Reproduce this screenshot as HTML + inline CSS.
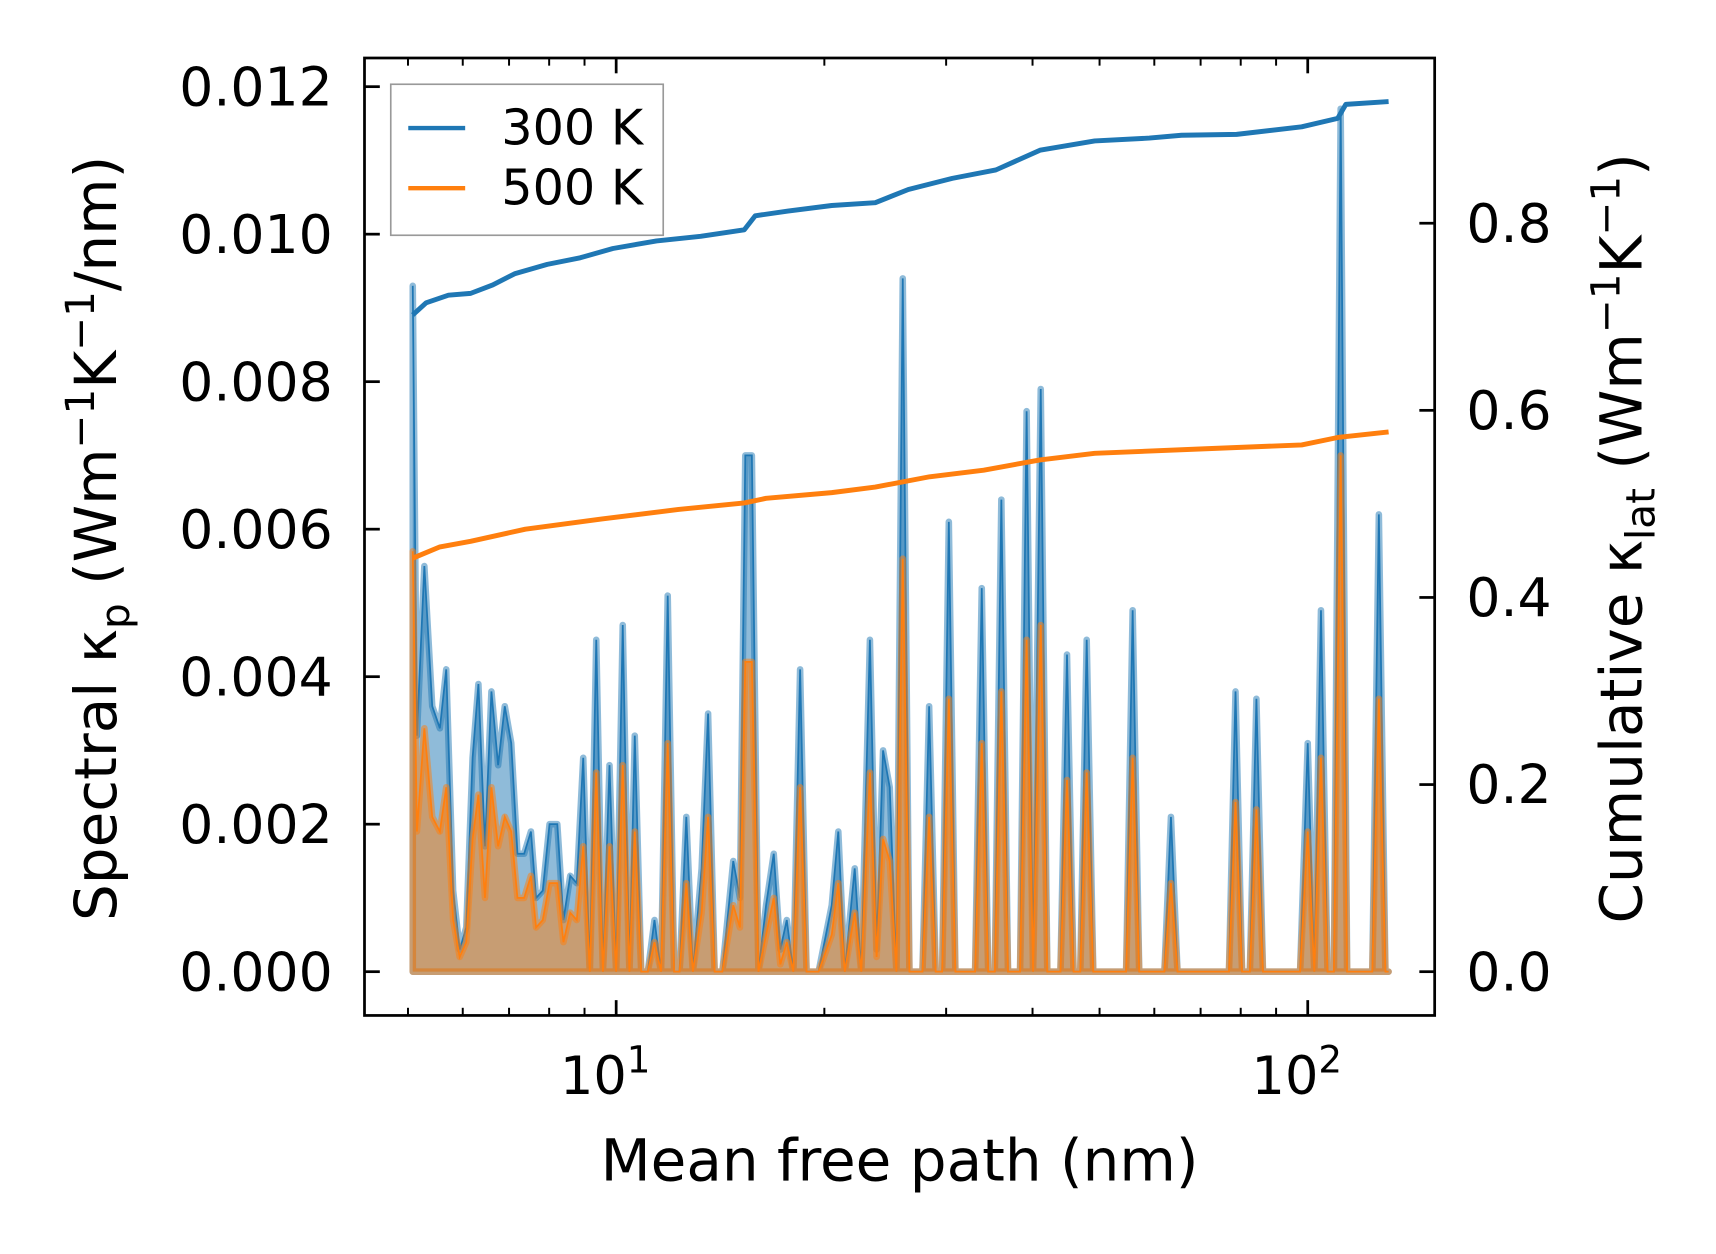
<!DOCTYPE html>
<html><head><meta charset="utf-8"><style>
html,body{margin:0;padding:0;background:#fff;}
svg{display:block;font-family:"DejaVu Sans","Liberation Sans",sans-serif;}
</style></head><body>
<svg id="chart" width="1716" height="1254" viewBox="0 0 1568 1146" xmlns="http://www.w3.org/2000/svg">
<rect x="0" y="0" width="1568" height="1146" fill="#fff"/>
<g id="marks"></g>
<g id="axes"></g>
</svg>
<script>
const mfp = [5.08,5.15,5.28,5.42,5.56,5.68,5.81,5.94,6.07,6.20,6.32,6.46,6.60,6.75,6.90,7.05,7.20,7.36,7.53,7.66,7.83,8.01,8.22,8.39,8.58,8.77,8.96,9.16,9.36,9.57,9.78,10.0,10.22,10.45,10.64,10.87,11.11,11.36,11.61,11.87,12.13,12.35,12.63,12.91,13.29,13.58,13.88,14.24,14.77,15.10,15.37,15.71,16.06,16.47,16.90,17.27,17.65,18.04,18.45,18.85,19.62,20.50,20.95,21.41,22.13,22.62,23.28,23.80,24.32,24.86,25.42,25.97,26.55,27.73,28.35,28.97,29.61,30.27,30.94,33.04,33.78,34.51,35.28,36.06,36.86,38.37,39.22,40.07,41.11,42.02,43.90,44.87,45.86,46.88,47.91,48.97,54.62,55.83,57.06,62.05,63.42,64.82,76.92,78.63,80.36,82.47,84.30,86.15,97.47,100,102.2,104.5,106.8,109.1,111.6,114.0,124.0,126.7,129.5,130.9];
const kp300 = [0.0093,0.0032,0.0055,0.0036,0.0033,0.0041,0.0011,0.0003,0.0006,0.0029,0.0039,0.0017,0.0038,0.0028,0.0036,0.0031,0.0016,0.0016,0.0019,0.0010,0.0011,0.0020,0.0020,0.0007,0.0013,0.0012,0.0029,0,0.0045,0,0.0028,0,0.0047,0,0.0032,0,0,0.0007,0,0.0051,0,0,0.0021,0,0.0014,0.0035,0,0,0.0015,0.0010,0.0070,0.0070,0,0.0009,0.0016,0.0003,0.0007,0,0.0041,0,0,0.0009,0.0019,0,0.0014,0,0.0045,0.0003,0.0030,0.0025,0,0.0094,0,0,0.0036,0,0,0.0061,0,0,0.0052,0,0,0.0064,0,0,0.0076,0,0.0079,0,0,0.0043,0,0,0.0045,0,0,0.0049,0,0,0.0021,0,0,0.0038,0,0,0.0037,0,0,0.0031,0,0.0049,0,0,0.0117,0,0,0.0062,0,0];
const kp500 = [0.0057,0.0019,0.0033,0.0021,0.0019,0.0025,0.0007,0.0002,0.0004,0.0018,0.0024,0.0010,0.0025,0.0017,0.0021,0.0019,0.0010,0.0010,0.0013,0.0006,0.0007,0.0012,0.0012,0.0004,0.0008,0.0007,0.0017,0,0.0027,0,0.0017,0,0.0028,0,0.0019,0,0,0.0004,0,0.0031,0,0,0.0012,0,0.0008,0.0021,0,0,0.0009,0.0006,0.0042,0.0042,0,0.0005,0.0010,0.0001,0.0004,0,0.0025,0,0,0.0005,0.0012,0,0.0008,0,0.0027,0.0002,0.0018,0.0015,0,0.0056,0,0,0.0021,0,0,0.0037,0,0,0.0031,0,0,0.0038,0,0,0.0045,0,0.0047,0,0,0.0026,0,0,0.0027,0,0,0.0029,0,0,0.0012,0,0,0.0023,0,0,0.0022,0,0,0.0019,0,0.0029,0,0,0.0070,0,0,0.0037,0,0];
const cumX300 = [5.08,5.31,5.72,6.16,6.63,7.13,7.95,8.87,9.89,11.44,13.25,15.32,15.89,17.72,20.50,23.70,26.45,30.61,35.4,41.0,49.2,59.0,65.7,78.9,98.0,110.5,113.5,130.9];
const cum300 = [0.702,0.715,0.723,0.725,0.734,0.746,0.756,0.763,0.773,0.781,0.786,0.793,0.808,0.813,0.819,0.822,0.836,0.848,0.857,0.878,0.888,0.891,0.894,0.895,0.903,0.912,0.927,0.930];
const cumX500 = [5.08,5.56,6.16,7.39,9.54,12.31,15.32,16.47,20.50,23.70,28.4,34.0,41.0,49.2,71.2,98.0,110.5,130.9];
const cum500 = [0.442,0.454,0.460,0.473,0.484,0.494,0.501,0.506,0.512,0.518,0.529,0.536,0.547,0.554,0.559,0.563,0.571,0.577];
const leftTicks = [0,0.002,0.004,0.006,0.008,0.010,0.012];
const leftLabels = ["0.000","0.002","0.004","0.006","0.008","0.010","0.012"];
const rightTicks = [0,0.2,0.4,0.6,0.8];
const rightLabels = ["0.0","0.2","0.4","0.6","0.8"];

const NS="http://www.w3.org/2000/svg";
const L=333,R=1311,T=53,B=928;
const xs = v => 563 + (Math.log10(v)-1)*632;
const yl = v => 888 - v/0.002*134.8;
const yr = v => 888 - v/0.2*171;
const marks=document.getElementById('marks'), axes=document.getElementById('axes');
function mk(tag, attrs, parent){const e=document.createElementNS(NS,tag);for(const k in attrs)e.setAttribute(k,attrs[k]);parent.appendChild(e);return e;}

function spectral(vals, color, name){
  let d='M'+xs(mfp[0])+','+yl(0);
  vals.forEach((v,i)=>{d+=' L'+xs(mfp[i]).toFixed(1)+','+yl(v).toFixed(1);});
  d+=' L'+xs(mfp[mfp.length-1])+','+yl(0)+' Z';
  const f=mk('path',{d:d,fill:color,'fill-opacity':0.5,stroke:color,'stroke-opacity':0.5,'stroke-width':6,'stroke-linejoin':'round'},marks);
  
  
  let ld='';
  vals.forEach((v,i)=>{ld+=(i?' L':'M')+xs(mfp[i]).toFixed(1)+','+yl(v).toFixed(1);});
  const l=mk('path',{d:ld,fill:'none',stroke:color,'stroke-width':1.6},marks);
  
  
}
spectral(kp300,'#1f77b4','spectral-300k');
spectral(kp500,'#ff7f0e','spectral-500k');

function cum(xv, vals, color, name){
  let d='';
  vals.forEach((v,i)=>{d+=(i?' L':'M')+xs(xv[i]).toFixed(1)+','+yr(v).toFixed(1);});
  const l=mk('path',{d:d,fill:'none',stroke:color,'stroke-width':4.5,'stroke-linejoin':'round'},marks);
  
  
}
cum(cumX300,cum300,'#1f77b4','cumulative-300k');
cum(cumX500,cum500,'#ff7f0e','cumulative-500k');

const fr=mk('rect',{x:L,y:T,width:R-L,height:B-T,fill:'none',stroke:'#000','stroke-width':2.5},axes);



for(let dec=0;dec<=2;dec++){
  for(let m=1;m<=9;m++){
    const v=m*Math.pow(10,dec);
    const x=xs(v); if(x<L||x>R) continue;
    const len=m===1?14:7;
    const t1=mk('line',{x1:x,x2:x,y1:B,y2:B-len,stroke:'#000','stroke-width':m===1?2.5:1.8},axes);
    
    
    mk('line',{x1:x,x2:x,y1:T,y2:T+len,stroke:'#000','stroke-width':m===1?2.5:1.8},axes);
  }
}
[1,2].forEach(p=>{
  const t=mk('text',{x:xs(Math.pow(10,p))-10,y:1000,'font-size':48,'text-anchor':'middle',fill:'#000'},axes);
  
  
  t.textContent='10';
  const s=mk('tspan',{dy:-20,'font-size':34},t); s.textContent=String(p);
});
leftTicks.forEach((v,i)=>{
  const y=yl(v);
  mk('line',{x1:L,x2:L+14,y1:y,y2:y,stroke:'#000','stroke-width':2.5},axes);
  const t=mk('text',{x:304,y:y+17,'font-size':49,'text-anchor':'end',fill:'#000'},axes);
  
  
  t.textContent=leftLabels[i];
});
rightTicks.forEach((v,i)=>{
  const y=yr(v);
  mk('line',{x1:R,x2:R-14,y1:y,y2:y,stroke:'#000','stroke-width':2.5},axes);
  const t=mk('text',{x:1340,y:y+17,'font-size':49,'text-anchor':'start',fill:'#000'},axes);
  
  
  t.textContent=rightLabels[i];
});

const svg=document.getElementById('chart');
svg.insertAdjacentHTML('beforeend',`
<text x="822" y="1079" font-size="53" text-anchor="middle">Mean free path (nm)</text>
<text transform="translate(106,492) rotate(-90)" font-size="53" text-anchor="middle">Spectral κ<tspan font-size="37" dy="12">p</tspan><tspan dy="-12"> (Wm</tspan><tspan font-size="37" dy="-20">−1</tspan><tspan dy="20">K</tspan><tspan font-size="37" dy="-20">−1</tspan><tspan dy="20">/nm)</tspan></text>
<text transform="translate(1500,492) rotate(-90)" font-size="53" text-anchor="middle">Cumulative κ<tspan font-size="37" dy="12">lat</tspan><tspan dy="-12"> (Wm</tspan><tspan font-size="37" dy="-20">−1</tspan><tspan dy="20">K</tspan><tspan font-size="37" dy="-20">−1</tspan><tspan dy="20">)</tspan></text>
<g>
<rect x="357" y="77" width="249" height="138" fill="#fff" fill-opacity="0.85" stroke="#999" stroke-width="1.5"/>
<line x1="373" x2="425" y1="117" y2="117" stroke="#1f77b4" stroke-width="4"/>
<text x="458" y="132" font-size="45">300 K</text>
<line x1="373" x2="425" y1="172" y2="172" stroke="#ff7f0e" stroke-width="4"/>
<text x="458" y="187" font-size="45">500 K</text>
</g>`);
</script>
</body></html>
